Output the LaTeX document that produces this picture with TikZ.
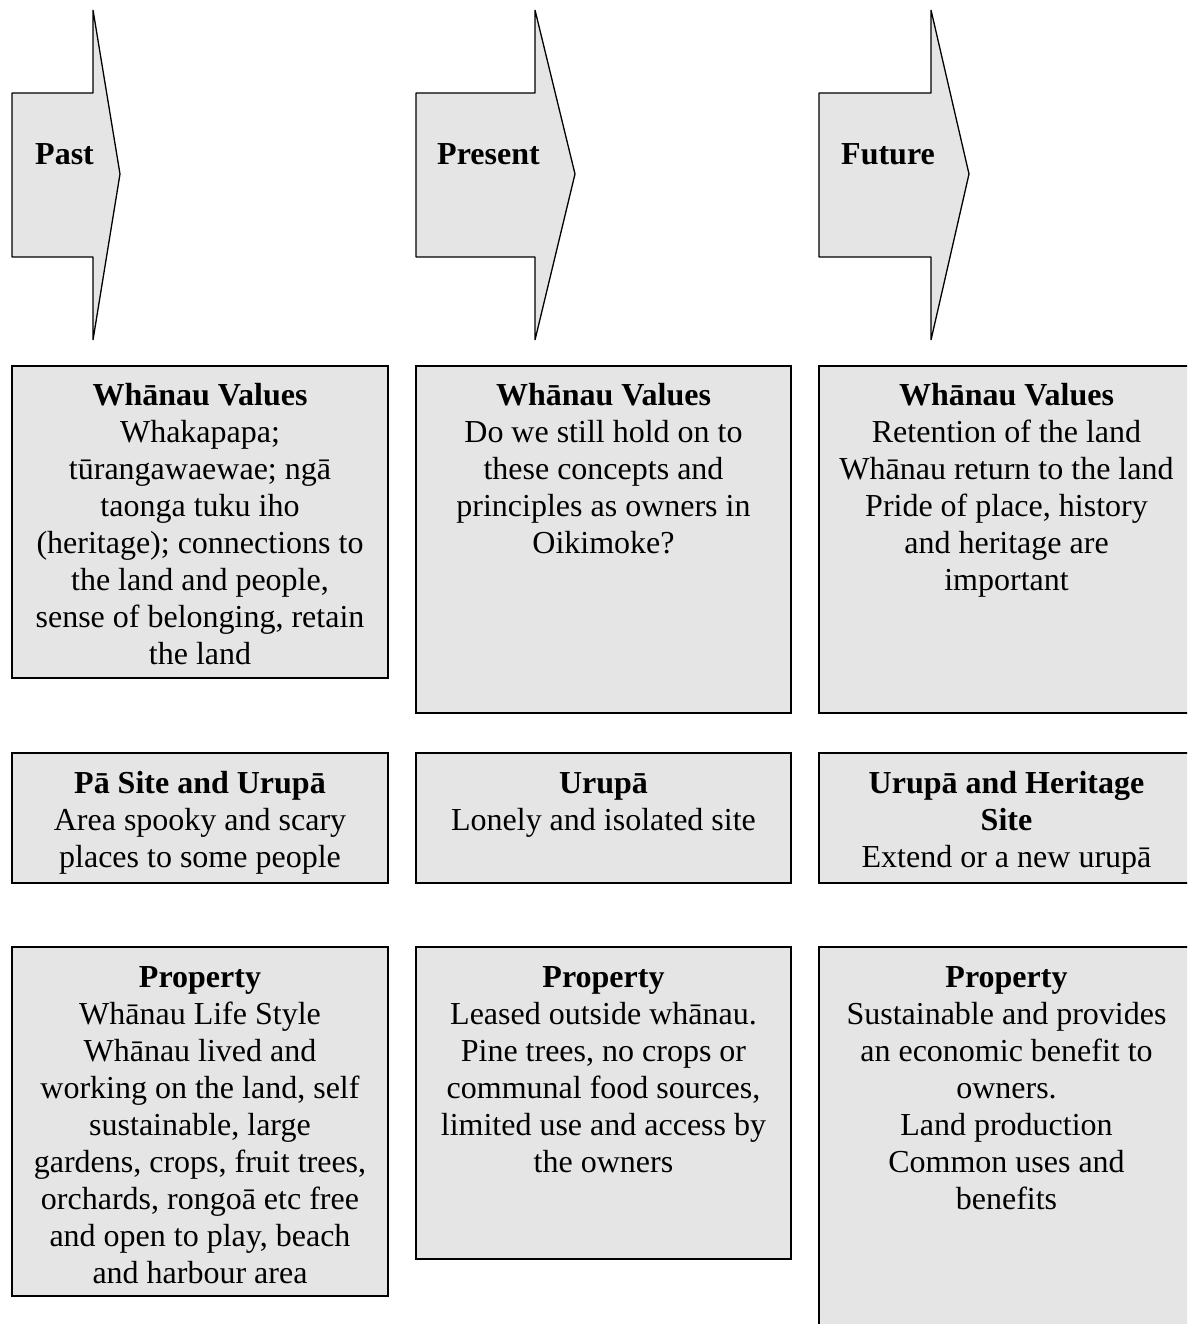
\documentclass[tikz,border=0pt]{standalone}
\usepackage{fontspec}
\setmainfont{Liberation Serif}
\definecolor{boxgray}{RGB}{229,229,229}
\tikzset{
  x=1pt, y=-1pt,
  panel/.style={draw=black, fill=boxgray, line width=1.3pt, inner sep=0pt, outer sep=0pt, anchor=north west},
  arrowshape/.style={draw=black, fill=boxgray, line width=1.3pt, line join=bevel},
  bodytext/.style={align=center, inner sep=0pt, anchor=north, font=\fontsize{32}{37}\selectfont},
  arrowlabel/.style={inner sep=0pt, anchor=base west, font=\fontsize{32}{37}\selectfont\bfseries},
}
\newcommand{\fl}{\rule{0pt}{29pt}}
\begin{document}
\begin{tikzpicture}
\clip (0,0) rectangle (1187,1324);
\fill[white] (0,0) rectangle (1187,1324);
% arrows
\draw[arrowshape] (12,93) -- (93,93) -- (93,10) -- (120,174) -- (93,340) -- (93,257) -- (12,257) -- cycle;
\draw[arrowshape] (416,93) -- (535,93) -- (535,10) -- (575,174) -- (535,340) -- (535,257) -- (416,257) -- cycle;
\draw[arrowshape] (819,93) -- (931,93) -- (931,10) -- (969,174) -- (931,340) -- (931,257) -- (819,257) -- cycle;
\node[arrowlabel] (lpast) at (35,165) {Past};
\node[arrowlabel] (lpres) at (437,165) {Present};
\node[arrowlabel] (lfut) at (841,165) {Future};
% row 1
\node[panel, minimum width=376pt, minimum height=312pt] (pv) at (12,366) {};
\node[panel, minimum width=375pt, minimum height=347pt] (nv) at (416,366) {};
\node[panel, minimum width=375pt, minimum height=347pt] (fv) at (819,366) {};
\node[bodytext] (pvt) at ([yshift=-10pt]pv.north) {\fl\textbf{Whānau Values}\\Whakapapa;\\tūrangawaewae; ngā\\taonga tuku iho\\(heritage); connections to\\the land and people,\\sense of belonging, retain\\the land};
\node[bodytext] (nvt) at ([yshift=-10pt]nv.north) {\fl\textbf{Whānau Values}\\Do we still hold on to\\these concepts and\\principles as owners in\\Oikimoke?};
\node[bodytext] (fvt) at ([yshift=-10pt]fv.north) {\fl\textbf{Whānau Values}\\Retention of the land\\Whānau return to the land\\Pride of place, history\\and heritage are\\important};
% row 2
\node[panel, minimum width=376pt, minimum height=130pt] (pu) at (12,753) {};
\node[panel, minimum width=375pt, minimum height=130pt] (nu) at (416,753) {};
\node[panel, minimum width=375pt, minimum height=130pt] (fu) at (819,753) {};
\node[bodytext] (put) at ([yshift=-11pt]pu.north) {\fl\textbf{Pā Site and Urupā}\\Area spooky and scary\\places to some people};
\node[bodytext] (nut) at ([yshift=-11pt]nu.north) {\fl\textbf{Urupā}\\Lonely and isolated site};
\node[bodytext] (fut) at ([yshift=-11pt]fu.north) {\fl\textbf{Urupā and Heritage}\\\textbf{Site}\\Extend or a new urupā};
% row 3
\node[panel, minimum width=376pt, minimum height=349pt] (pp) at (12,947) {};
\node[panel, minimum width=375pt, minimum height=312pt] (np) at (416,947) {};
\node[panel, minimum width=375pt, minimum height=400pt] (fp) at (819,947) {};
\node[bodytext] (ppt) at ([yshift=-11pt]pp.north) {\fl\textbf{Property}\\Whānau Life Style\\Whānau lived and\\working on the land, self\\sustainable, large\\gardens, crops, fruit trees,\\orchards, rongoā etc free\\and open to play, beach\\and harbour area};
\node[bodytext] (npt) at ([yshift=-11pt]np.north) {\fl\textbf{Property}\\Leased outside whānau.\\Pine trees, no crops or\\communal food sources,\\limited use and access by\\the owners};
\node[bodytext] (fpt) at ([yshift=-11pt]fp.north) {\fl\textbf{Property}\\Sustainable and provides\\an economic benefit to\\owners.\\Land production\\Common uses and\\benefits};
\end{tikzpicture}
\end{document}
